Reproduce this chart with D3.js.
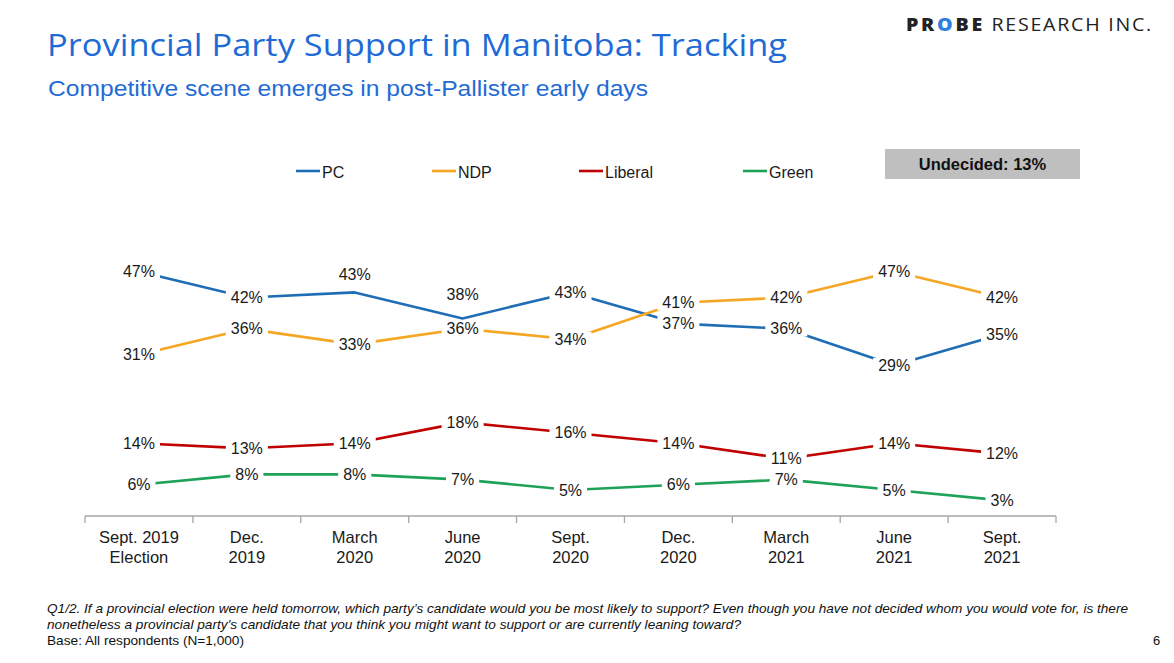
<!DOCTYPE html>
<html><head><meta charset="utf-8">
<script src="https://cdn.jsdelivr.net/npm/d3@7"></script>
<style>
html,body{margin:0;padding:0;background:#fff;}
svg{display:block;}
</style></head>
<body>
<svg id="chart" width="1174" height="663"></svg>
<script>
const categories = ["Sept. 2019\nElection","Dec.\n2019","March\n2020","June\n2020","Sept.\n2020","Dec.\n2020","March\n2021","June\n2021","Sept.\n2021"];
const seriesNames = ["PC","NDP","Liberal","Green"];
const pcValues      = [47,42,43,38,43,37,36,29,35];
const ndpValues     = [31,36,33,36,34,41,42,47,42];
const liberalValues = [14,13,14,18,16,14,11,14,12];
const greenValues   = [6,8,8,7,5,6,7,5,3];
const seriesColors  = ["#1F6EB5","#F5A623","#C00000","#1DA257"];
const pcLabelsAbove = ["March\n2020","June\n2020"];
const undecidedText = "Undecided: 13%";
const titleText = "Provincial Party Support in Manitoba: Tracking";
const subtitleText = "Competitive scene emerges in post-Pallister early days";
const footLines = [
  "Q1/2. If a provincial election were held tomorrow, which party\u2019s candidate would you be most likely to support? Even though you have not decided whom you would vote for, is there",
  "nonetheless a provincial party's candidate that you think you might want to support or are currently leaning toward?"
];
const baseText = "Base: All respondents (N=1,000)";

const seriesValues = [pcValues, ndpValues, liberalValues, greenValues];
const series = seriesNames.map((n,i)=>({name:n,color:seriesColors[i],values:seriesValues[i]}));

const svg = d3.select("#chart");
const ARIAL = "'Liberation Sans', Arial, sans-serif";

// Title
svg.append("text").attr("x",47).attr("y",56)
  .attr("font-family","'Open Sans','Noto Sans',sans-serif").attr("font-size",31)
  .attr("fill","#1F6BD6").text(titleText)
  .attr("textLength",740).attr("lengthAdjust","spacingAndGlyphs");
svg.append("text").attr("x",48).attr("y",96)
  .attr("font-family",ARIAL).attr("font-size",21.5)
  .attr("fill","#1F6BD6").text(subtitleText)
  .attr("textLength",600).attr("lengthAdjust","spacingAndGlyphs");

// Logo
const logo = svg.append("text").attr("x",906).attr("y",31)
  .attr("font-family","'Open Sans','Noto Sans',sans-serif").attr("font-size",18).attr("fill","#222");
logo.append("tspan").attr("font-weight",800).attr("letter-spacing",2.5).text("PR");
logo.append("tspan").attr("font-weight",800).attr("fill","#2F7FE0").attr("letter-spacing",2.5).text("O");
logo.append("tspan").attr("font-weight",800).attr("letter-spacing",2.5).text("BE");
logo.append("tspan").attr("font-weight",400).attr("letter-spacing",1.6).attr("dx",6).text("RESEARCH INC.");
logo.attr("textLength",247).attr("lengthAdjust","spacingAndGlyphs");

// Scales
const x = d3.scaleBand().domain(categories).range([85,1056]).padding(0);
const y = d3.scaleLinear().domain([0,50]).range([516,256]);
const cx = c => x(c) + x.bandwidth()/2;

// Axis
const axisG = svg.append("g");
axisG.append("line").attr("x1",x.range()[0]).attr("x2",x.range()[1])
  .attr("y1",y(0)).attr("y2",y(0)).attr("stroke","#A6A6A6").attr("stroke-width",1.3);
const edges = categories.map(c=>x(c)).concat([x.range()[1]]);
axisG.selectAll("line.tick").data(edges).join("line").attr("class","tick")
  .attr("x1",d=>d).attr("x2",d=>d).attr("y1",y(0)).attr("y2",y(0)+7)
  .attr("stroke","#A6A6A6").attr("stroke-width",1.3);
const catText = axisG.selectAll("text.cat").data(categories).join("text").attr("class","cat")
  .attr("x",d=>cx(d)).attr("y",y(0)+27).attr("text-anchor","middle")
  .attr("font-family",ARIAL).attr("font-size",16.5).attr("fill","#1a1a1a");
catText.each(function(d){
  const parts = d.split("\n");
  d3.select(this).selectAll("tspan").data(parts).join("tspan")
    .attr("x",cx(d)).attr("dy",(p,i)=>i===0?0:20).text(p=>p);
});

// Lines
const line = d3.line().x((v,i)=>cx(categories[i])).y(v=>y(v));
svg.append("g").selectAll("path").data(series).join("path")
  .attr("d",s=>line(s.values)).attr("fill","none")
  .attr("stroke",s=>s.color).attr("stroke-width",2.6).attr("stroke-linejoin","round");

// Labels
const labG = svg.append("g");
series.forEach(s=>{
  s.values.forEach((v,i)=>{
    const c = categories[i];
    let ly = y(v);
    const above = s.name==="PC" && pcLabelsAbove.includes(c);
    if(above) ly = y(v) - (c==="June\n2020"?24:18);
    const g = labG.append("g");
    const txt = g.append("text").attr("x",cx(c)).attr("y",ly).attr("dy","0.35em")
      .attr("text-anchor","middle").attr("font-family",ARIAL).attr("font-size",16)
      .attr("fill","#1a1a1a").text(v+"%");
    if(!above){
      const bb = txt.node().getBBox();
      g.insert("rect","text").attr("x",bb.x-5).attr("y",bb.y+1).attr("width",bb.width+10)
        .attr("height",bb.height-2).attr("fill","#fff");
    }
  });
});

// Legend
const legendX = [296,432,579,743];
const lg = svg.append("g");
series.forEach((s,i)=>{
  lg.append("line").attr("x1",legendX[i]).attr("x2",legendX[i]+24)
    .attr("y1",171).attr("y2",171).attr("stroke",s.color).attr("stroke-width",2.6);
  lg.append("text").attr("x",legendX[i]+26).attr("y",172).attr("dy","0.35em")
    .attr("font-family",ARIAL).attr("font-size",16).attr("fill","#1a1a1a").text(s.name);
});

// Undecided box
svg.append("rect").attr("x",885).attr("y",149).attr("width",195).attr("height",30).attr("fill","#BFBFBF");
svg.append("text").attr("x",982.5).attr("y",164).attr("dy","0.35em").attr("text-anchor","middle")
  .attr("font-family",ARIAL).attr("font-weight","bold").attr("font-size",16.5).attr("fill","#111")
  .text(undecidedText);

// Footnote
const NARROW = "'Liberation Sans Narrow','Arial Narrow',"+ARIAL;
const fw = [1081, 694];
footLines.forEach((l,i)=>{
  svg.append("text").attr("x",47).attr("y",613+i*16).attr("font-family",NARROW)
    .attr("font-style","italic").attr("font-size",13).attr("fill","#111").text(l)
    .attr("textLength",fw[i]).attr("lengthAdjust","spacingAndGlyphs");
});
svg.append("text").attr("x",47).attr("y",645).attr("font-family",NARROW)
  .attr("font-size",13).attr("fill","#111").text(baseText)
  .attr("textLength",197).attr("lengthAdjust","spacingAndGlyphs");
svg.append("text").attr("x",1153).attr("y",645).attr("font-family",NARROW)
  .attr("font-size",13).attr("fill","#111").text("6");
</script>
</body></html>
